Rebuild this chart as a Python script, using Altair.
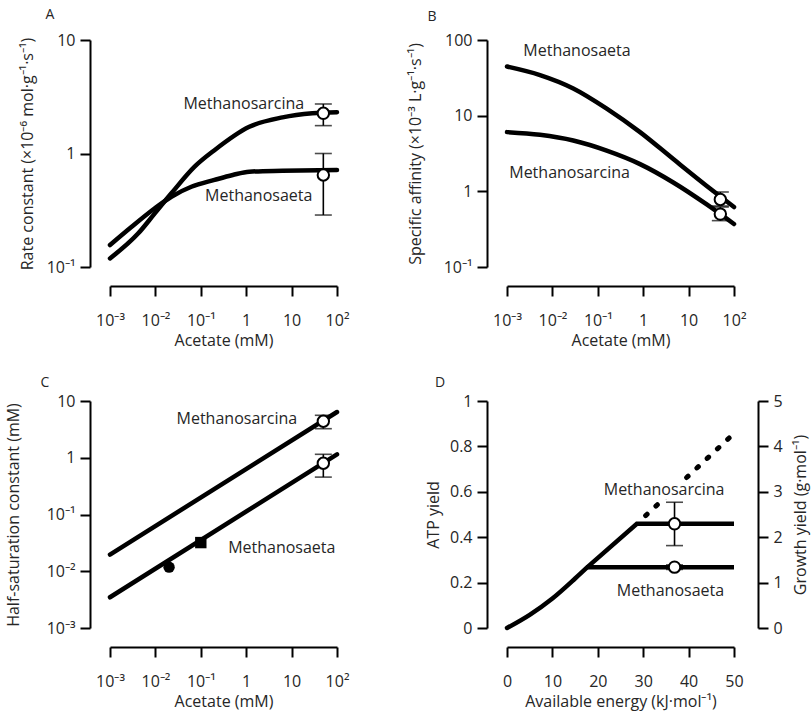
import altair as alt
import pandas as pd

FONT = "Open Sans"
TXT = "#262626"
W, H = 227, 227

# ---------------- data ----------------
# Panel A : rate constant
a_sar_x = [0.001, 0.0042, 0.0097, 0.0225, 0.073, 0.2, 1.17, 6.3, 28.7, 100]
a_sarcina = [0.119, 0.198, 0.297, 0.446, 0.766, 1.07, 1.72, 2.08, 2.26, 2.31]
a_sae_x = [0.001, 0.003, 0.0097, 0.0225, 0.062, 0.2, 0.506, 1.17, 6.3, 100]
a_saeta = [0.156, 0.226, 0.329, 0.416, 0.509, 0.585, 0.647, 0.692, 0.705, 0.716]
a_pt_x = [50, 50]
a_pt_y = [2.26, 0.647]
a_pt_lo = [1.76, 0.287]
a_pt_hi = [2.73, 1.0]
a_lab = ["Methanosarcina", "Methanosaeta"]
a_lab_x = [18.9, 28.7]
a_lab_y = [2.73, 0.423]

# Panel B : specific affinity
b_x = [0.001, 0.00533, 0.0288, 0.157, 0.851, 4.6, 25.1, 100]
b_saeta = [44.6, 34.4, 22.9, 12.4, 6.06, 2.67, 1.18, 0.62]
b_sarcina = [6.06, 5.58, 4.69, 3.45, 2.29, 1.31, 0.671, 0.37]
b_pt_x = [50, 50]
b_pt_y = [0.78, 0.50]
b_pt_lo = [0.64, 0.41]
b_pt_hi = [0.98, 0.62]
b_lab = ["Methanosaeta", "Methanosarcina"]
b_lab_x = [0.00229, 0.00112]
b_lab_y = [72, 1.74]

# Panel C : half-saturation constant
c_x = [0.001, 100]
c_sarcina = [0.0197, 6.4]
c_saeta = [0.00348, 1.15]
c_pt_x = [50, 50]
c_pt_y = [4.4, 0.8]
c_pt_lo = [3.25, 0.456]
c_pt_hi = [5.6, 1.15]
c_fcirc_x = [0.02]
c_fcirc_y = [0.0118]
c_fsq_x = [0.1]
c_fsq_y = [0.032]
c_lab = ["Methanosarcina", "Methanosaeta"]
c_lab_x = [13.3, 0.4]
c_lab_y = [4.75, 0.0256]

# Panel D : ATP yield
d_common_x = [0, 5, 10, 15, 17.7]
d_common_y = [0, 0.058, 0.13, 0.218, 0.268]
d_saeta_x = [17.7, 50]
d_saeta_y = [0.268, 0.268]
d_sarcina_x = [17.7, 28.6, 50]
d_sarcina_y = [0.268, 0.459, 0.459]
d_dot_x = [28.6, 50]
d_dot_y = [0.459, 0.857]
d_pt_x = [36.9, 36.9]
d_pt_y = [0.459, 0.268]
d_pt_lo = [0.363, 0.258]
d_pt_hi = [0.554, 0.278]
d_lab = ["Methanosarcina", "Methanosaeta"]
d_lab_x = [34.6, 36.0]
d_lab_y = [0.609, 0.164]

acet_ticks = [0.001, 0.01, 0.1, 1, 10, 100]
acet_labels = ["10⁻³", "10⁻²", "10⁻¹", "1", "10", "10²"]
a_yticks = [0.1, 1, 10]
a_ylabels = ["10⁻¹", "1", "10"]
b_yticks = [0.1, 1, 10, 100]
b_ylabels = ["10⁻¹", "1", "10", "100"]
c_yticks = [0.001, 0.01, 0.1, 1, 10]
c_ylabels = ["10⁻³", "10⁻²", "10⁻¹", "1", "10"]
d_xticks = [0, 10, 20, 30, 40, 50]
d_yticks = [0, 0.2, 0.4, 0.6, 0.8, 1]
d_y2ticks = [0, 1, 2, 3, 4, 5]


def lexpr(vals, labels):
    parts = [f"datum.value < {v * 1.5!r} ? '{l}'" for v, l in zip(vals, labels)]
    return " : ".join(parts) + " : ''"


def xlog(title="Acetate (mM)"):
    sc = alt.Scale(type="log", domain=[acet_ticks[0], acet_ticks[-1]], nice=False)
    ax = alt.Axis(values=acet_ticks, labelExpr=lexpr(acet_ticks, acet_labels),
                  title=title, offset=19, titlePadding=4, labelPadding=16,
                  labelFlush=False, labelOverlap=False)
    return alt.X("x:Q", scale=sc, axis=ax)


def ylog(ticks, labels, title, tp):
    sc = alt.Scale(type="log", domain=[ticks[0], ticks[-1]], nice=False)
    ax = alt.Axis(values=ticks, labelExpr=lexpr(ticks, labels),
                  title=title, offset=20, titlePadding=tp,
                  labelFlush=False, labelOverlap=False)
    return sc, ax


def series_df(pairs):
    rows = []
    for name, (xs, ys) in pairs.items():
        for xv, yv in zip(xs, ys):
            rows.append({"x": xv, "y": yv, "s": name})
    return pd.DataFrame(rows)


def points_df(x, y, lo, hi):
    return pd.DataFrame({"x": x, "y": y, "lo": lo, "hi": hi})


def caps_df(x, lo, hi):
    return pd.DataFrame({"x": list(x) + list(x), "y": list(lo) + list(hi)})


def labels_df(t, x, y):
    return pd.DataFrame({"t": t, "x": x, "y": y})


def std_layers(X, ysc, yax, ldf, pdf, cdf, tdf, talign):
    Y = alt.Y("y:Q", scale=ysc, axis=yax)
    line = alt.Chart(ldf).mark_line(color="black", strokeWidth=4.5, strokeCap="round",
                                    interpolate="monotone").encode(x=X, y=Y, detail="s:N")
    rule = alt.Chart(pdf).mark_rule(color="black", strokeWidth=1.6).encode(
        x=X, y=alt.Y("lo:Q", scale=ysc, axis=yax), y2="hi:Q")
    caps = alt.Chart(cdf).mark_tick(orient="horizontal", color="black", size=17,
                                    thickness=1.6).encode(x=X, y=Y)
    pts = alt.Chart(pdf).mark_point(shape="circle", filled=True, fill="white", stroke="black",
                                    strokeWidth=2, size=130, opacity=1).encode(x=X, y=Y)
    txt = alt.Chart(tdf).mark_text(font=FONT, fontSize=16, color=TXT, align=talign,
                                   baseline="middle").encode(x=X, y=Y, text="t:N")
    return [line, rule, caps, pts, txt]


def letter(ch, dx, dy):
    return alt.Chart(pd.DataFrame({"t": [ch]})).mark_text(
        font=FONT, fontSize=14, color=TXT, align="center", baseline="middle").encode(
        x=alt.value(dx), y=alt.value(dy), text="t:N")


# ---------------- Panel A ----------------
XA = xlog()
sA, aA = ylog(a_yticks, a_ylabels, "Rate constant (×10⁻⁶ mol·g⁻¹·s⁻¹)", 11)
A = alt.layer(
    *std_layers(XA, sA, aA,
                series_df({"Methanosarcina": (a_sar_x, a_sarcina),
                           "Methanosaeta": (a_sae_x, a_saeta)}),
                points_df(a_pt_x, a_pt_y, a_pt_lo, a_pt_hi),
                caps_df(a_pt_x, a_pt_lo, a_pt_hi),
                labels_df(a_lab, a_lab_x, a_lab_y), "right"),
    letter("A", -60, -25),
).properties(width=W, height=H)

# ---------------- Panel B ----------------
XB = xlog()
sB, aB = ylog(b_yticks, b_ylabels, "Specific affinity (×10⁻³ L·g⁻¹·s⁻¹)", 20)
B = alt.layer(
    *std_layers(XB, sB, aB,
                series_df({"Methanosaeta": (b_x, b_saeta),
                           "Methanosarcina": (b_x, b_sarcina)}),
                points_df(b_pt_x, b_pt_y, b_pt_lo, b_pt_hi),
                caps_df(b_pt_x, b_pt_lo, b_pt_hi),
                labels_df(b_lab, b_lab_x, b_lab_y), "left"),
    letter("B", -75, -23),
).properties(width=W, height=H)

# ---------------- Panel C ----------------
XC = xlog()
sC, aC = ylog(c_yticks, c_ylabels, "Half-saturation constant (mM)", 25)
YC = alt.Y("y:Q", scale=sC, axis=aC)
c_base = std_layers(XC, sC, aC,
                    series_df({"Methanosarcina": (c_x, c_sarcina),
                               "Methanosaeta": (c_x, c_saeta)}),
                    points_df(c_pt_x, c_pt_y, c_pt_lo, c_pt_hi),
                    caps_df(c_pt_x, c_pt_lo, c_pt_hi),
                    labels_df(c_lab[:1], c_lab_x[:1], c_lab_y[:1]), "right")
c_txt2 = alt.Chart(labels_df(c_lab[1:], c_lab_x[1:], c_lab_y[1:])).mark_text(
    font=FONT, fontSize=16, color=TXT, align="left", baseline="middle").encode(x=XC, y=YC, text="t:N")
c_fc = alt.Chart(pd.DataFrame({"x": c_fcirc_x, "y": c_fcirc_y})).mark_point(
    shape="circle", filled=True, color="black", size=130, opacity=1).encode(x=XC, y=YC)
c_fs = alt.Chart(pd.DataFrame({"x": c_fsq_x, "y": c_fsq_y})).mark_point(
    shape="square", filled=True, color="black", size=130, opacity=1).encode(x=XC, y=YC)
C = alt.layer(*c_base, c_txt2, c_fc, c_fs, letter("C", -65, -18)).properties(width=W, height=H)

# ---------------- Panel D ----------------
XD = alt.X("x:Q", scale=alt.Scale(domain=[0, 50], nice=False),
           axis=alt.Axis(values=d_xticks, title="Available energy (kJ·mol⁻¹)", offset=19,
                         titlePadding=4, labelPadding=16, labelFlush=False, labelOverlap=False))
sD = alt.Scale(domain=[0, 1], nice=False)
aD = alt.Axis(values=d_yticks, format="~g", title="ATP yield", offset=20,
              titlePadding=8, labelFlush=False, labelOverlap=False)
YD = alt.Y("y:Q", scale=sD, axis=aD)

d_curve = alt.Chart(pd.DataFrame({"x": d_common_x, "y": d_common_y})).mark_line(
    color="black", strokeWidth=4.5, strokeCap="round", interpolate="monotone").encode(x=XD, y=YD)
d_lines = series_df({"saeta": (d_saeta_x, d_saeta_y), "sarcina": (d_sarcina_x, d_sarcina_y)})
d_line = alt.Chart(d_lines).mark_line(color="black", strokeWidth=4.5, strokeCap="butt").encode(
    x=XD, y=YD, detail="s:N")
d_dots = alt.Chart(pd.DataFrame({"x": d_dot_x, "y": d_dot_y})).mark_line(
    color="black", strokeWidth=5, strokeCap="round", strokeDash=[2, 12],
    strokeDashOffset=2).encode(x=XD, y=YD)
d_pdf = points_df(d_pt_x, d_pt_y, d_pt_lo, d_pt_hi)
d_rule = alt.Chart(d_pdf).mark_rule(color="black", strokeWidth=1.6).encode(
    x=XD, y=alt.Y("lo:Q", scale=sD, axis=aD), y2="hi:Q")
d_caps = alt.Chart(caps_df(d_pt_x, d_pt_lo, d_pt_hi)).mark_tick(
    orient="horizontal", color="black", size=17, thickness=1.6).encode(x=XD, y=YD)
d_pts = alt.Chart(d_pdf).mark_point(shape="circle", filled=True, fill="white", stroke="black",
                                    strokeWidth=2, size=130, opacity=1).encode(x=XD, y=YD)
d_tdf = labels_df(d_lab, d_lab_x, d_lab_y)
d_halo = alt.Chart(d_tdf).mark_text(font=FONT, fontSize=16, color="white", stroke="white",
                                    strokeWidth=8, align="center", baseline="middle").encode(
    x=XD, y=YD, text="t:N")
d_txt = alt.Chart(d_tdf).mark_text(font=FONT, fontSize=16, color=TXT, align="center",
                                   baseline="middle").encode(x=XD, y=YD, text="t:N")
d_main = alt.layer(d_curve, d_line, d_dots, d_halo, d_txt, d_rule, d_caps, d_pts,
                   letter("D", -67, -18))

d_right = alt.Chart(pd.DataFrame({"g": d_y2ticks, "x": [0] * len(d_y2ticks)})).mark_point(
    opacity=0).encode(
    x=XD,
    y=alt.Y("g:Q", scale=alt.Scale(domain=[0, 5], nice=False),
            axis=alt.Axis(values=d_y2ticks, format="d", title="Growth yield (g·mol⁻¹)",
                          orient="right", offset=24, titleAngle=270, titleBaseline="top",
                          titlePadding=10, labelFlush=False, labelOverlap=False)))
D = alt.layer(d_main, d_right).resolve_scale(y="independent").properties(width=W, height=H)

chart = alt.concat(A, B, C, D, columns=2, spacing={"row": 134, "column": 170},
                   bounds="flush").configure_view(stroke=None).configure_axis(
    domainColor="black", domainWidth=2, tickColor="black", tickWidth=2, tickSize=10,
    labelFont=FONT, labelFontSize=16, labelColor=TXT, labelPadding=5,
    titleFont=FONT, titleFontSize=16, titleFontWeight="normal", titleColor=TXT, grid=False
).properties(autosize=alt.AutoSizeParams(type="none"),
             padding={"left": 110, "top": 40, "right": 702, "bottom": 672})

chart.save("out.html", embed_options={"renderer": "svg", "actions": False})
